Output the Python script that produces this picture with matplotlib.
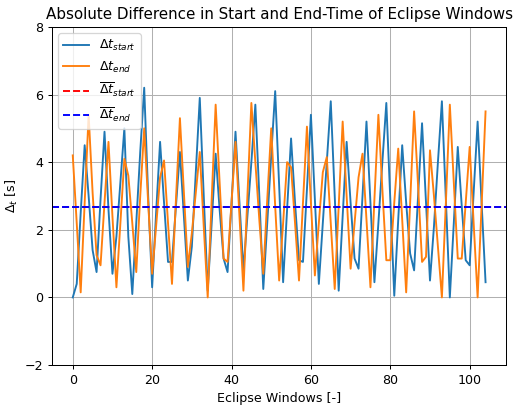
from matplotlib import pyplot as plt
import numpy as np

# absolute start/end time differences per eclipse window
dt_start = [0.0, 0.4, 2.5, 4.5, 3.0, 1.4, 0.75, 2.9, 4.9, 2.6,
            0.7, 1.8, 3.4, 5.0, 1.8, 0.1, 2.2, 4.3, 6.2, 3.0,
            0.3, 2.5, 4.6, 2.8, 1.05, 1.05, 2.7, 4.3, 2.4, 0.5,
            1.5, 3.7, 5.9, 3.0, 0.2, 2.2, 4.25, 2.6, 1.15, 0.75,
            2.8, 4.9, 2.8, 0.8, 2.4, 4.0, 5.7, 3.0, 0.25, 2.2,
            4.2, 6.1, 3.3, 0.45, 2.6, 4.7, 2.8, 1.1, 1.05, 3.2,
            5.4, 2.9, 0.4, 2.2, 4.0, 5.8, 3.0, 0.2, 2.4, 4.6,
            2.8, 1.15, 0.85, 3.0, 5.2, 2.8, 0.45, 2.2, 4.0, 5.75,
            2.9, 0.05, 2.3, 4.5, 2.8, 1.3, 0.8, 3.0, 5.15, 2.8,
            0.5, 2.1, 4.0, 5.8, 2.9, 0.0, 2.2, 4.45, 2.7, 1.1,
            0.95, 3.1, 5.2, 2.8, 0.45]
dt_end = [4.2, 2.2, 0.15, 2.8, 5.4, 3.1, 1.25, 0.95, 2.8, 4.6,
          2.4, 0.3, 2.2, 4.1, 3.6, 2.2, 0.75, 3.0, 5.0, 2.8,
          0.7, 2.1, 3.55, 4.05, 2.2, 0.4, 2.9, 5.3, 3.1, 0.9,
          1.9, 3.1, 4.3, 2.1, 0.0, 2.9, 5.7, 3.4, 1.15, 1.05,
          2.8, 4.6, 2.4, 0.2, 3.0, 5.75, 4.0, 2.3, 0.7, 2.9,
          5.0, 2.7, 0.5, 2.2, 4.0, 3.85, 2.2, 0.5, 2.8, 5.05,
          2.8, 0.65, 2.2, 3.7, 4.15, 2.2, 0.25, 2.7, 5.2, 3.0,
          0.85, 2.2, 3.55, 4.25, 2.3, 0.3, 2.9, 5.4, 3.2, 1.1,
          1.1, 2.8, 4.4, 2.3, 0.15, 2.8, 5.5, 3.3, 1.05, 1.2,
          4.35, 3.0, 1.5, 0.0, 2.8, 5.7, 3.4, 1.15, 1.15, 2.8,
          4.45, 2.2, 0.0, 2.7, 5.5]

windows = np.arange(len(dt_start))
mean_start = np.mean(dt_start)
mean_end = np.mean(dt_end)

fig = plt.figure(figsize=(516 / 91, 407 / 91), dpi=91)
ax = fig.add_subplot(111)
fig.subplots_adjust(left=0.101, right=0.981, top=0.934, bottom=0.103)

ax.plot(windows, dt_start, label=r'$\Delta t_{start}$')
ax.plot(windows, dt_end, label=r'$\Delta t_{end}$')
ax.axhline(mean_start, color='r', ls='--', label=r'$\overline{\Delta t}_{start}$')
ax.axhline(mean_end, color='b', ls='--', label=r'$\overline{\Delta t}_{end}$')

ax.set_ylim(-2, 8)
ax.grid()
ax.set_title('Absolute Difference in Start and End-Time of Eclipse Windows')
ax.set_xlabel('Eclipse Windows [-]')
ax.set_ylabel(r'$\Delta_t$ [s]')
ax.legend(loc='upper left')

fig.savefig('out.png', dpi=91)
